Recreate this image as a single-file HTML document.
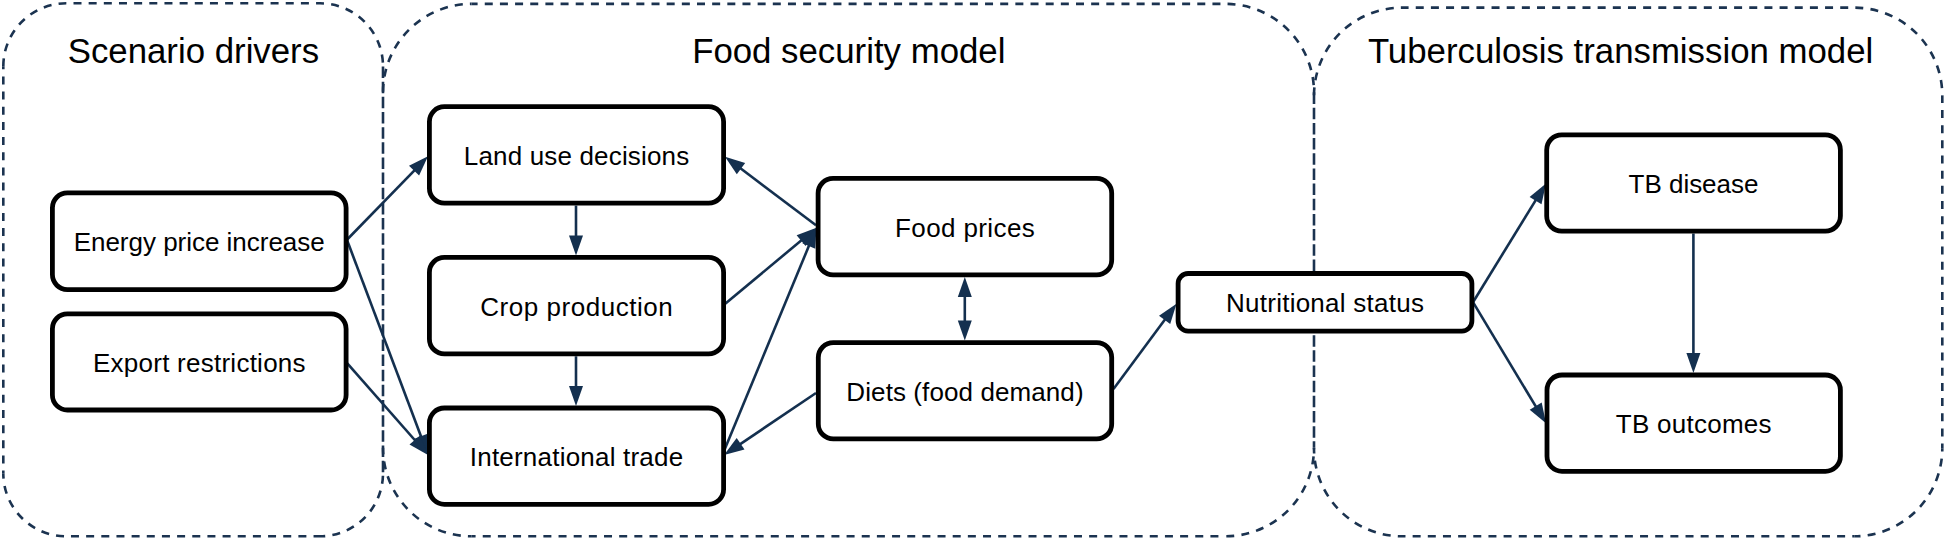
<!DOCTYPE html>
<html><head><meta charset="utf-8"><style>
html,body{margin:0;padding:0;background:#fff;width:1946px;height:540px;overflow:hidden}
svg{display:block}
text{font-family:"Liberation Sans",sans-serif;fill:#000;}
</style></head><body>
<svg width="1946" height="540" viewBox="0 0 1946 540">
<rect width="1946" height="540" fill="#fff"/>
<g>
<path d="M66.3,3.3 H320" fill="none" stroke="#1b3350" stroke-width="2.6" stroke-dasharray="8.00 7.16" stroke-dashoffset="7.96"/>
<path d="M66.3,536.3 H320" fill="none" stroke="#1b3350" stroke-width="2.6" stroke-dasharray="8.00 7.16" stroke-dashoffset="10.48"/>
<path d="M3.3,66.3 V473.29999999999995" fill="none" stroke="#1b3350" stroke-width="2.6" stroke-dasharray="8.00 7.16" stroke-dashoffset="5.00"/>
<path d="M383,66.3 V473.29999999999995" fill="none" stroke="#1b3350" stroke-width="2.6" stroke-dasharray="11.50 3.66" stroke-dashoffset="14.96"/>
<path d="M3.3,66.3 A63,63 0 0 1 66.3,3.3" fill="none" stroke="#1b3350" stroke-width="2.6" stroke-dasharray="8.00 7.16" stroke-dashoffset="15.12"/>
<path d="M320,3.3 A63,63 0 0 1 383,66.3" fill="none" stroke="#1b3350" stroke-width="2.6" stroke-dasharray="8.00 7.16" stroke-dashoffset="3.94"/>
<path d="M383,473.29999999999995 A63,63 0 0 1 320,536.3" fill="none" stroke="#1b3350" stroke-width="2.6" stroke-dasharray="8.00 7.16" stroke-dashoffset="12.64"/>
<path d="M3.3,473.29999999999995 A63,63 0 0 0 66.3,536.3" fill="none" stroke="#1b3350" stroke-width="2.6" stroke-dasharray="8.00 7.16" stroke-dashoffset="2.48"/>
<path d="M471.5,3.9 H1225.5" fill="none" stroke="#1b3350" stroke-width="2.6" stroke-dasharray="8.00 7.16" stroke-dashoffset="1.90"/>
<path d="M471.5,536.3 H1225.5" fill="none" stroke="#1b3350" stroke-width="2.6" stroke-dasharray="8.00 7.16" stroke-dashoffset="3.92"/>
<path d="M1314,92.4 V447.79999999999995" fill="none" stroke="#1b3350" stroke-width="2.6" stroke-dasharray="11.50 3.66" stroke-dashoffset="14.94"/>
<path d="M383,92.4 A88.5,88.5 0 0 1 471.5,3.9" fill="none" stroke="#1b3350" stroke-width="2.6" stroke-dasharray="8.00 7.16" stroke-dashoffset="14.48"/>
<path d="M1225.5,3.9 A88.5,88.5 0 0 1 1314,92.4" fill="none" stroke="#1b3350" stroke-width="2.6" stroke-dasharray="8.00 7.16" stroke-dashoffset="13.06"/>
<path d="M1314,447.79999999999995 A88.5,88.5 0 0 1 1225.5,536.3" fill="none" stroke="#1b3350" stroke-width="2.6" stroke-dasharray="8.00 7.16" stroke-dashoffset="6.50"/>
<path d="M383,447.79999999999995 A88.5,88.5 0 0 0 471.5,536.3" fill="none" stroke="#1b3350" stroke-width="2.6" stroke-dasharray="8.00 7.16" stroke-dashoffset="1.34"/>
<path d="M1402,7.65 H1854.3" fill="none" stroke="#1b3350" stroke-width="2.6" stroke-dasharray="8.00 7.16" stroke-dashoffset="1.42"/>
<path d="M1402,536.3 H1854.3" fill="none" stroke="#1b3350" stroke-width="2.6" stroke-dasharray="8.00 7.16" stroke-dashoffset="4.52"/>
<path d="M1942.3,95.65 V448.29999999999995" fill="none" stroke="#1b3350" stroke-width="2.6" stroke-dasharray="8.00 7.16" stroke-dashoffset="0.77"/>
<path d="M1314,95.65 A88,88 0 0 1 1402,7.65" fill="none" stroke="#1b3350" stroke-width="2.6" stroke-dasharray="8.00 7.16" stroke-dashoffset="14.79"/>
<path d="M1854.3,7.65 A88,88 0 0 1 1942.3,95.65" fill="none" stroke="#1b3350" stroke-width="2.6" stroke-dasharray="8.00 7.16" stroke-dashoffset="14.08"/>
<path d="M1942.3,448.29999999999995 A88,88 0 0 1 1854.3,536.3" fill="none" stroke="#1b3350" stroke-width="2.6" stroke-dasharray="8.00 7.16" stroke-dashoffset="4.74"/>
<path d="M1314,448.29999999999995 A88,88 0 0 0 1402,536.3" fill="none" stroke="#1b3350" stroke-width="2.6" stroke-dasharray="8.00 7.16" stroke-dashoffset="2.73"/>
<text x="193.4" y="62.8" font-size="34.8" text-anchor="middle">Scenario drivers</text>
<text x="848.8" y="62.8" font-size="34.8" text-anchor="middle">Food security model</text>
<text x="1620.6" y="62.8" font-size="34.8" text-anchor="middle">Tuberculosis transmission model</text>
<line x1="346.7" y1="240.0" x2="416.9" y2="167.8" stroke="#14304f" stroke-width="2.6"/>
<polygon points="428.0,156.3 419.1,175.5 409.0,165.8" fill="#14304f"/>
<line x1="347.0" y1="240.0" x2="422.4" y2="440.0" stroke="#14304f" stroke-width="2.6"/>
<polygon points="428.0,455.0 414.4,438.8 427.5,433.8" fill="#14304f"/>
<line x1="347.3" y1="363.3" x2="417.4" y2="443.0" stroke="#14304f" stroke-width="2.6"/>
<polygon points="428.0,455.0 409.5,444.6 420.0,435.4" fill="#14304f"/>
<line x1="576.0" y1="205.6" x2="576.0" y2="239.5" stroke="#14304f" stroke-width="2.6"/>
<polygon points="576.0,255.5 569.0,235.5 583.0,235.5" fill="#14304f"/>
<line x1="576.0" y1="356.3" x2="576.0" y2="390.0" stroke="#14304f" stroke-width="2.6"/>
<polygon points="576.0,406.0 569.0,386.0 583.0,386.0" fill="#14304f"/>
<line x1="816.0" y1="225.2" x2="737.8" y2="166.3" stroke="#14304f" stroke-width="2.6"/>
<polygon points="725.0,156.7 745.2,163.1 736.8,174.3" fill="#14304f"/>
<line x1="724.3" y1="304.5" x2="804.2" y2="238.0" stroke="#14304f" stroke-width="2.6"/>
<polygon points="816.5,227.8 805.6,246.0 796.6,235.2" fill="#14304f"/>
<line x1="724.0" y1="451.0" x2="810.4" y2="242.3" stroke="#14304f" stroke-width="2.6"/>
<polygon points="816.5,227.5 815.3,248.7 802.4,243.3" fill="#14304f"/>
<line x1="816.0" y1="393.0" x2="737.3" y2="446.1" stroke="#14304f" stroke-width="2.6"/>
<polygon points="724.0,455.0 736.7,438.0 744.5,449.6" fill="#14304f"/>
<line x1="964.8" y1="293.0" x2="964.8" y2="324.5" stroke="#14304f" stroke-width="2.6"/>
<polygon points="964.8,340.5 957.8,320.5 971.8,320.5" fill="#14304f"/>
<polygon points="964.8,277.0 957.8,297.0 971.8,297.0" fill="#14304f"/>
<line x1="1113.5" y1="389.0" x2="1167.0" y2="316.7" stroke="#14304f" stroke-width="2.6"/>
<polygon points="1176.5,303.8 1170.2,324.0 1159.0,315.7" fill="#14304f"/>
<line x1="1473.0" y1="302.2" x2="1537.6" y2="197.1" stroke="#14304f" stroke-width="2.6"/>
<polygon points="1546.0,183.5 1541.5,204.2 1529.6,196.9" fill="#14304f"/>
<line x1="1473.0" y1="302.2" x2="1537.7" y2="409.6" stroke="#14304f" stroke-width="2.6"/>
<polygon points="1546.0,423.3 1529.7,409.8 1541.7,402.6" fill="#14304f"/>
<line x1="1693.4" y1="233.5" x2="1693.4" y2="357.0" stroke="#14304f" stroke-width="2.6"/>
<polygon points="1693.4,373.0 1686.4,353.0 1700.4,353.0" fill="#14304f"/>
<rect x="52.4" y="192.8" width="293.7" height="96.8" rx="15" ry="15" fill="#fff" stroke="#000" stroke-width="4.8"/>
<text x="199.2" y="251.1" font-size="26" letter-spacing="-0.02" text-anchor="middle">Energy price increase</text>
<rect x="52.4" y="313.9" width="293.7" height="96.09999999999998" rx="15" ry="15" fill="#fff" stroke="#000" stroke-width="4.8"/>
<text x="199.4" y="371.9" font-size="26" letter-spacing="0.25" text-anchor="middle">Export restrictions</text>
<rect x="429.4" y="106.7" width="294.2" height="96.5" rx="15" ry="15" fill="#fff" stroke="#000" stroke-width="4.8"/>
<text x="576.6" y="164.8" font-size="26" letter-spacing="0.16" text-anchor="middle">Land use decisions</text>
<rect x="429.4" y="257.4" width="294.2" height="96.50000000000001" rx="15" ry="15" fill="#fff" stroke="#000" stroke-width="4.8"/>
<text x="576.8" y="315.6" font-size="26" letter-spacing="0.53" text-anchor="middle">Crop production</text>
<rect x="429.4" y="408.0" width="294.2" height="96.29999999999997" rx="15" ry="15" fill="#fff" stroke="#000" stroke-width="4.8"/>
<text x="576.6" y="466.1" font-size="26" letter-spacing="0.21" text-anchor="middle">International trade</text>
<rect x="818.1" y="178.3" width="293.59999999999985" height="96.60000000000001" rx="15" ry="15" fill="#fff" stroke="#000" stroke-width="4.8"/>
<text x="965.1" y="236.5" font-size="26" letter-spacing="0.38" text-anchor="middle">Food prices</text>
<rect x="818.3" y="342.59999999999997" width="293.3999999999999" height="96.30000000000003" rx="15" ry="15" fill="#fff" stroke="#000" stroke-width="4.8"/>
<text x="965.0" y="400.7" font-size="26" letter-spacing="0.09" text-anchor="middle">Diets (food demand)</text>
<rect x="1178.1000000000001" y="273.5" width="293.7999999999999" height="57.59999999999998" rx="10" ry="10" fill="#fff" stroke="#000" stroke-width="4.8"/>
<text x="1325.1" y="312.2" font-size="26" letter-spacing="0.25" text-anchor="middle">Nutritional status</text>
<rect x="1546.7" y="134.9" width="293.7" height="96.2" rx="15" ry="15" fill="#fff" stroke="#000" stroke-width="4.8"/>
<text x="1693.5" y="192.9" font-size="26" letter-spacing="-0.03" text-anchor="middle">TB disease</text>
<rect x="1547.0" y="375.0" width="293.40000000000003" height="96.29999999999997" rx="15" ry="15" fill="#fff" stroke="#000" stroke-width="4.8"/>
<text x="1693.8" y="433.1" font-size="26" letter-spacing="0.25" text-anchor="middle">TB outcomes</text>
</g>
</svg>
</body></html>
